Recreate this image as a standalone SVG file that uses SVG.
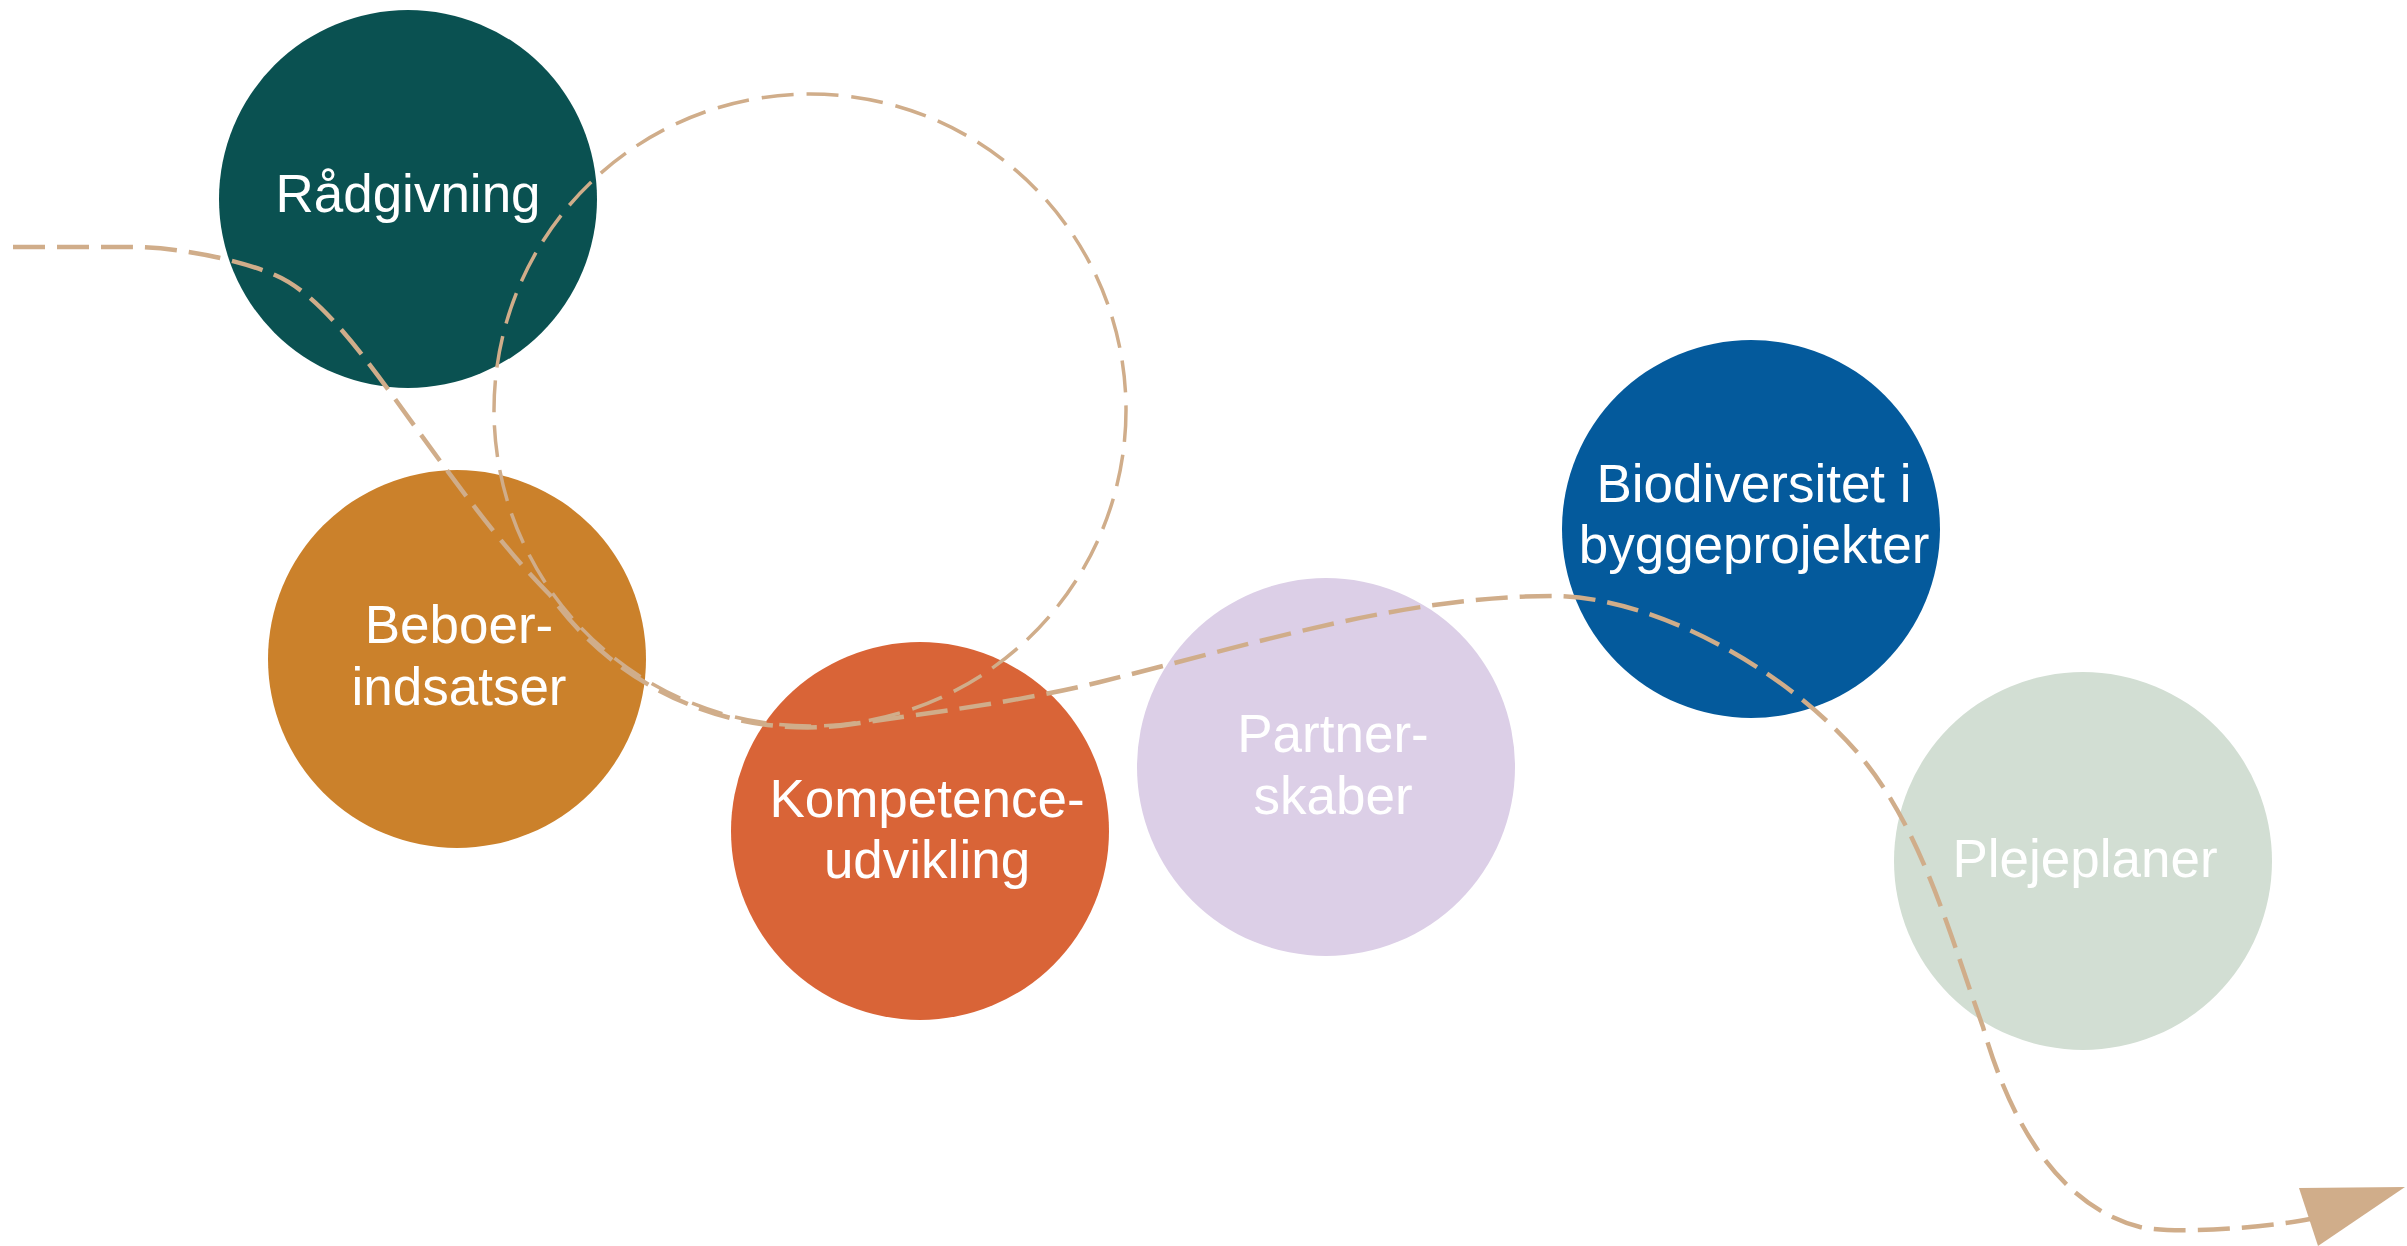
<svg xmlns="http://www.w3.org/2000/svg" width="2407" height="1246" viewBox="0 0 2407 1246">
<style>
.lbl{font-family:"Liberation Sans",Arial,sans-serif;font-size:53px;fill:#ffffff;text-anchor:middle}
.main{fill:none;stroke:#D0AD8A;stroke-width:4.5;stroke-dasharray:32 12}
.loop{fill:none;stroke:#D0AD8A;stroke-width:3.5;stroke-dasharray:32 13}
</style>
<rect width="2407" height="1246" fill="#ffffff"/>
<g id="node-raadgivning">
<circle cx="408" cy="199" r="189" fill="#0A5151"/>
<text class="lbl" x="408" y="212">Rådgivning</text>
</g>
<g id="node-beboerindsatser">
<circle cx="457" cy="659" r="189" fill="#CB812B"/>
<text class="lbl" x="459" y="643">Beboer-</text>
<text class="lbl" x="459" y="705">indsatser</text>
</g>
<g id="node-kompetenceudvikling">
<circle cx="920" cy="831" r="189" fill="#D96437"/>
<text class="lbl" x="927" y="817">Kompetence-</text>
<text class="lbl" x="927" y="878">udvikling</text>
</g>
<g id="node-partnerskaber">
<circle cx="1326" cy="767" r="189" fill="#DCCFE7"/>
<text class="lbl" x="1333" y="752">Partner-</text>
<text class="lbl" x="1333" y="814">skaber</text>
</g>
<g id="node-biodiversitet">
<circle cx="1751" cy="529" r="189" fill="#045A9C"/>
<text class="lbl" x="1754" y="502">Biodiversitet i</text>
<text class="lbl" x="1754" y="563">byggeprojekter</text>
</g>
<g id="node-plejeplaner">
<circle cx="2083" cy="861" r="189" fill="#D2DED3"/>
<text class="lbl" x="2085" y="877">Plejeplaner</text>
</g>
<g id="connectors">
<circle class="loop" cx="810" cy="410" r="316"/>
<path class="main" d="M 13 247 H 130 C 180 247 240 260 275 275 C 310 290 345 330 390 392 C 450 475 500 545 550 595 A 316 316 0 0 0 860 723 C 920 714 1020 702 1100 682 C 1250 645 1403 596 1553 596 C 1653 596 1785 669 1857 752 C 1922 828 1949 933 1983 1027 C 2008 1115 2055 1205 2140 1227 C 2175 1235 2270 1227 2310 1219"/>
<polygon points="2299,1188 2405,1187 2318,1246" fill="#D0AD8A"/>
</g>
</svg>
